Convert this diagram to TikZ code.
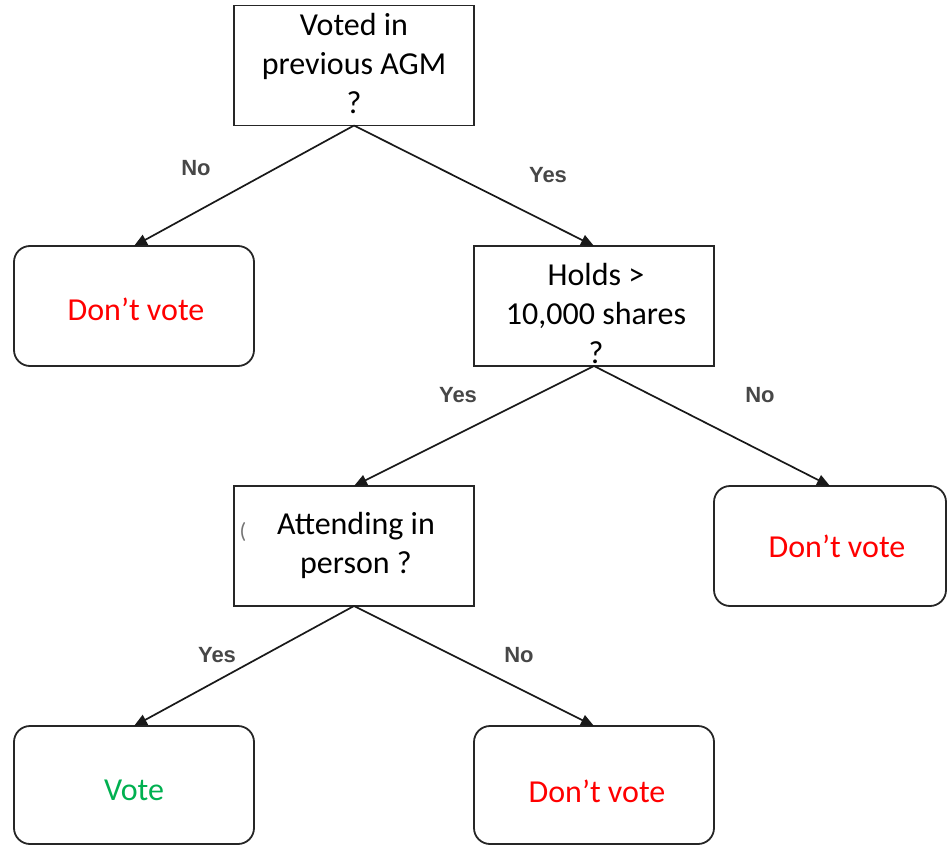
\documentclass[tikz,border=0pt]{standalone}
\usepackage{fontspec}
\setmainfont{Carlito}
\newfontfamily\labelfont{Liberation Sans}
\usetikzlibrary{arrows.meta}
\definecolor{nored}{HTML}{FF0000}
\definecolor{yesgreen}{HTML}{00B050}
\tikzset{
  qbox/.style={draw=black!85, line width=1.8pt, fill=white, rectangle, minimum width=240pt, minimum height=120pt, outer sep=0pt, inner sep=0pt},
  leafbox/.style={draw=black!85, line width=1.8pt, fill=white, rectangle, rounded corners=16pt, minimum width=240pt, minimum height=120pt, outer sep=0pt, inner sep=0pt},
  boxtext/.style={align=center, font=\fontsize{32}{39}\selectfont, inner sep=0pt},
  edgelabel/.style={font=\labelfont\bfseries\fontsize{22}{26}\selectfont, text=black!72, inner sep=0pt},
  arr/.style={draw=black!90, line width=1.7pt, -{Triangle[length=13pt,width=11pt]}},
}
\begin{document}
\begin{tikzpicture}[x=1pt,y=-1pt]
\useasboundingbox (0,0) rectangle (947,845);
% nodes
\node[qbox] (top) at (354,65.5) {};
\node[boxtext] (toptext) at (354,64) {Voted in\\previous AGM\\?};
\node[leafbox] (dl) at (134,306) {};
\node[boxtext, text=nored] (dltext) at (136,309) {Don’t vote};
\node[qbox] (holds) at (594,306) {};
\node[boxtext] (holdstext) at (596,313) {Holds >\\10,000 shares\\?};
\node[qbox] (att) at (354,546) {};
\node[inner sep=0pt, text=black!55, font=\fontsize{22}{24}\selectfont] (stray) at (243,532) {(};
\node[boxtext] (atttext) at (356,545) {Attending in\\person ?};
\node[leafbox, minimum width=232pt] (dr) at (830,546) {};
\node[boxtext, text=nored] (drtext) at (837,546) {Don’t vote};
\node[leafbox, minimum height=118pt] (vote) at (134,785) {};
\node[boxtext, text=yesgreen] (votetext) at (134,790) {Vote};
\node[leafbox, minimum height=118pt] (db) at (594,785) {};
\node[boxtext, text=nored] (dbtext) at (597,791) {Don’t vote};
% connectors
\draw[arr] (top.south) -- (dl.north);
\draw[arr] (top.south) -- (holds.north);
\draw[arr] (holds.south) -- (att.north);
\draw[arr] (holds.south) -- (dr.north);
\draw[arr] (att.south) -- (vote.north);
\draw[arr] (att.south) -- (db.north);
% edge labels
\node[edgelabel] (l1) at (196,168) {No};
\node[edgelabel] (l2) at (548,175) {Yes};
\node[edgelabel] (l3) at (458,395) {Yes};
\node[edgelabel] (l4) at (760,395) {No};
\node[edgelabel] (l5) at (217,655) {Yes};
\node[edgelabel] (l6) at (519,655) {No};
\end{tikzpicture}
\end{document}
